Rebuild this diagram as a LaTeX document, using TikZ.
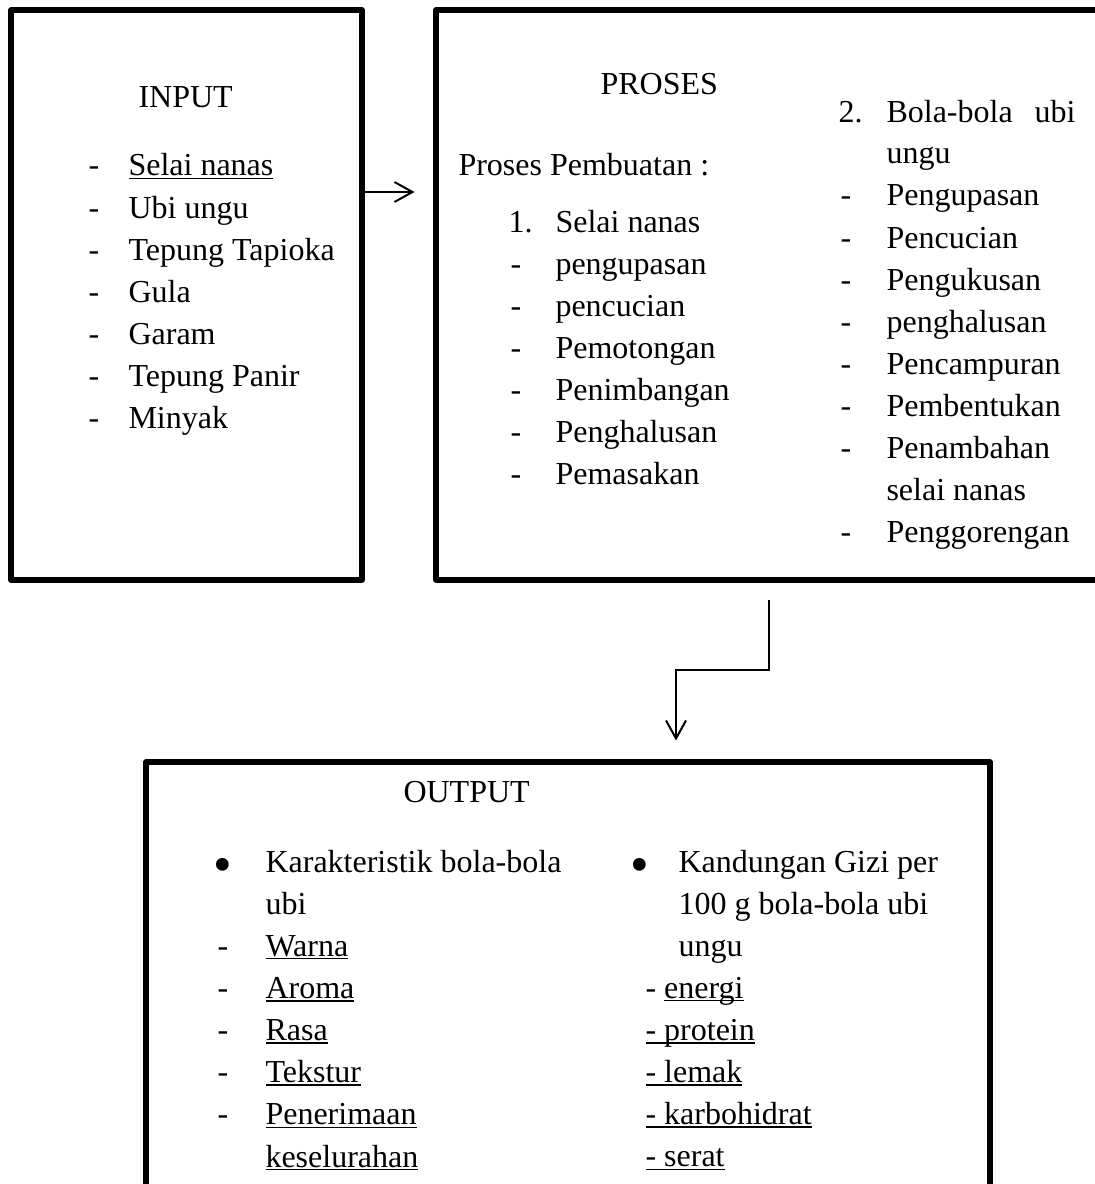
\documentclass[tikz,border=0pt]{standalone}
\usepackage{fontspec}
\setmainfont{Liberation Serif}
\usetikzlibrary{arrows.meta,fit}

\newcommand\uln[1]{\setbox0\hbox{#1}\rlap{\rule[-1.3pt]{\wd0}{0.6pt}}\box0}
\newcommand\bigbul{\raisebox{-4pt}{\fontsize{20}{20}\selectfont\textbullet}}

\tikzset{
  box/.style={draw, line width=1.9pt, inner sep=0pt, line join=round},
  txt/.style={anchor=base west, inner sep=0pt, font=\fontsize{12}{14}\selectfont},
  arr/.style={line width=0.75pt, -{Straight Barb[length=6.75pt,width=7.5pt]}},
}

\begin{document}
\begin{tikzpicture}[x=0.375pt,y=-0.375pt]
\useasboundingbox (0,0) rectangle (1094,1184);
% boxes
\node[box, fit={(11,10) (362,580)}] (input) {};
\node[box, fit={(436,10) (1130,580)}] (proses) {};
\node[box, fit={(146,762) (990,1220)}] (output) {};
% input
\node[txt] (intitle) at (138,108) {INPUT};
\foreach \t [count=\i from 0] in {\uln{Selai nanas},Ubi ungu,Tepung Tapioka,Gula,Garam,Tepung Panir,Minyak} {
  \node[txt] (indash\i) at (88,176+42*\i) {-};
  \node[txt] (initem\i) at (128,176+42*\i) {\t};
}
% proses, left column
\node[txt] (prtitle) at (600,95) {PROSES};
\node[txt] (prsub) at (458,175) {Proses Pembuatan :};
\node[txt] (prnuma) at (508,232) {1.};
\node[txt] (prheada) at (555,232) {Selai nanas};
\foreach \t [count=\i from 0] in {pengupasan,pencucian,Pemotongan,Penimbangan,Penghalusan,Pemasakan} {
  \node[txt] (pradash\i) at (510,274+42*\i) {-};
  \node[txt] (praitem\i) at (555,274+42*\i) {\t};
}
% proses, right column
\node[txt] (prnumb) at (838,122) {2.};
\node[txt] (prheadb) at (886,122) {\makebox[70.9pt][s]{Bola-bola ubi}};
\node[txt] (prheadbb) at (886,164) {ungu};
\foreach \t [count=\i from 0] in {Pengupasan,Pencucian,Pengukusan,penghalusan,Pencampuran,Pembentukan,Penambahan} {
  \node[txt] (prbdash\i) at (840,206+42*\i) {-};
  \node[txt] (prbitem\i) at (886,206+42*\i) {\t};
}
\node[txt] (prbcont) at (886,500) {selai nanas};
\node[txt] (prbdashl) at (840,542) {-};
\node[txt] (prbiteml) at (886,542) {Penggorengan};
% output
\node[txt] (outtitle) at (403,802) {OUTPUT};
\node[txt] (outbula) at (213,872) {\bigbul};
\node[txt] (outheada) at (265,872) {Karakteristik bola-bola};
\node[txt] (outheadaa) at (265,914) {ubi};
\foreach \t [count=\i from 0] in {Warna,Aroma,Rasa,Tekstur,Penerimaan} {
  \node[txt] (outadash\i) at (217,956+42.2*\i) {-};
  \node[txt] (outaitem\i) at (265,956+42.2*\i) {\uln{\t}};
}
\node[txt] (outacont) at (265,1167) {\uln{keselurahan}};
\node[txt] (outbulb) at (630,872) {\bigbul};
\node[txt] (outheadb) at (678,872) {Kandungan Gizi per};
\node[txt] (outheadbb) at (678,914) {100 g bola-bola ubi};
\node[txt] (outheadbc) at (678,956) {ungu};
\node[txt] (outbitem0) at (645,998) {- \uln{energi}};
\foreach \t [count=\i from 1] in {protein,lemak,karbohidrat,serat} {
  \node[txt] (outbitem\i) at (645,998+42.2*\i) {\uln{- \t}};
}
% connectors
\coordinate (arry) at (0,192);
\coordinate (bend) at (769,670);
\coordinate (drop) at (676,0);
\draw[arr, shorten >=7.1pt] (input.east |- arry) -- (proses.west |- arry);
\draw[arr, shorten <=6.4pt, shorten >=7.1pt] (proses.south -| bend) -- (bend) -| (output.north -| drop);
\end{tikzpicture}
\end{document}
